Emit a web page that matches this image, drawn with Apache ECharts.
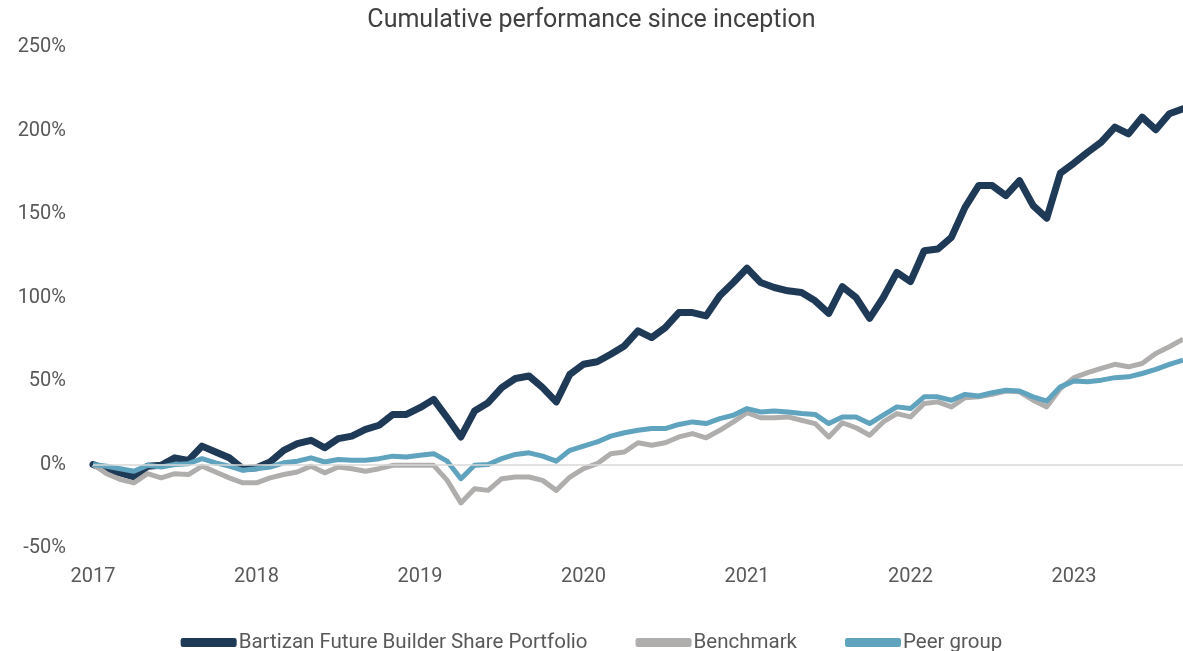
<!DOCTYPE html>
<html>
<head>
<meta charset="utf-8">
<style>
  html, body { margin: 0; padding: 0; background: #fff; }
  #main { width: 1183px; height: 651px; }
</style>
<script src="https://cdn.jsdelivr.net/npm/echarts@6/dist/echarts.min.js"></script>
</head>
<body>
<div id="main"></div>
<script>
// 月度数据，从 2017-01 到 2023-09
var years = ['2017', '2018', '2019', '2020', '2021', '2022', '2023']
var months = ['01', '02', '03', '04', '05', '06', '07', '08', '09', '10', '11', '12']

var portfolio = [
  0, -3, -5, -7.5, -1, -0.5, 4, 2.5, 11, 7.5, 4, -2.5,
  -2, 1.5, 8.5, 12.5, 14.5, 10, 15.5, 17, 21, 23.5, 30, 30,
  34, 39, 28, 16.5, 32, 37, 46, 51.5, 53, 46, 37.5, 54,
  60, 61.5, 66, 71, 80, 76, 82, 91, 91, 89, 101, 109,
  117.5, 109, 106, 104, 103, 98, 90.5, 106.5, 100, 87.5, 100, 115,
  109.5, 128, 129, 136, 154, 167, 167, 161, 170, 155, 147.5, 174.5,
  180.5, 187, 193, 202, 198, 208, 200.5, 210, 213
]
var benchmark = [
  0, -5.5, -9, -11, -5.5, -8, -5.5, -6, -1, -4.5, -8, -11,
  -11, -8, -6, -4.5, -1, -5, -1.5, -2.5, -4, -2.5, -0.5, -0.5,
  -0.5, -0.5, -9.5, -23, -14.5, -15.5, -8.5, -7.5, -7.5, -9.5, -15.5, -7.5,
  -2.5, 0.5, 6.5, 7.5, 13, 11.5, 13, 16.5, 18.5, 16, 20.5, 25.5,
  31, 28, 28, 28.5, 26.5, 24.5, 16.5, 25, 22, 17.5, 25.5, 30.5,
  28.5, 36.5, 37.5, 34.5, 40, 40.5, 42, 44, 43.5, 38.5, 34.5, 45.5,
  52, 55, 57.5, 60, 58.5, 60.5, 66.5, 70.5, 75
]
var peer = [
  0, -1, -2.5, -4, -0.5, -1.5, 0, 0.5, 3.5, 1, -1, -3.5,
  -2.5, -1.5, 1, 2, 4, 1.5, 3, 2.5, 2.5, 3.5, 5, 4.5,
  5.5, 6.5, 2, -8.5, -0.5, 0, 3.5, 6, 7, 5, 2, 8.5,
  11, 13.5, 17, 19, 20.5, 21.5, 21.5, 24, 25.5, 24.5, 27.5, 29.5,
  33.5, 31.5, 32, 31.5, 30.5, 30, 24.5, 28.5, 28.5, 24.5, 29.5, 34.5,
  33.5, 40.5, 40.5, 38.5, 42, 41, 43, 44.5, 44, 40.5, 38, 46.5,
  50, 49.5, 50.5, 52, 52.5, 54.5, 57, 60, 62.5
]

// 横轴类目
var dates = []
for (var i = 0; i < years.length; i++) {
  for (var j = 0; j < months.length; j++) {
    if (dates.length < portfolio.length) dates.push(years[i] + '-' + months[j])
  }
}

var myChart = echarts.init(document.getElementById('main'))

var option = {
  animation: false,
  textStyle: { fontFamily: 'Roboto, "Noto Sans", sans-serif' },
  title: {
    text: 'Cumulative performance since inception',
    left: 'center',
    top: 3,
    textStyle: { fontSize: 25, fontWeight: 'normal', color: '#404040' }
  },
  grid: { left: 93, right: 0, top: 47, bottom: 103 },
  legend: {
    top: 627,
    left: 'center',
    icon: 'roundRect',
    itemWidth: 56,
    itemHeight: 9,
    itemGap: 48,
    textStyle: { fontSize: 20.5, color: '#595959', padding: [0, 0, 0, -3] },
    data: ['Bartizan Future Builder Share Portfolio', 'Benchmark', 'Peer group']
  },
  xAxis: {
    type: 'category',
    boundaryGap: false,
    data: dates,
    axisLine: { show: false },
    axisTick: { show: false },
    axisLabel: {
      interval: 11,
      margin: 19,
      fontSize: 20,
      color: '#595959',
      formatter: function (v) { return v.slice(0, 4) }
    }
  },
  yAxis: {
    type: 'value',
    min: -50,
    max: 250,
    interval: 50,
    axisLine: { show: false },
    axisTick: { show: false },
    splitLine: { show: false },
    axisLabel: {
      margin: 27,
      fontSize: 20,
      color: '#595959',
      formatter: '{value}%'
    }
  },
  series: [
    {
      name: 'Bartizan Future Builder Share Portfolio',
      type: 'line',
      data: portfolio,
      showSymbol: false,
      lineStyle: { width: 7, color: '#1f3a56', join: 'round', cap: 'round' },
      itemStyle: { color: '#1f3a56' },
      markLine: {
        silent: true,
        symbol: 'none',
        label: { show: false },
        lineStyle: { color: '#d9d9d9', width: 1.5, type: 'solid' },
        data: [{ yAxis: 0 }]
      }
    },
    {
      name: 'Benchmark',
      type: 'line',
      data: benchmark,
      showSymbol: false,
      lineStyle: { width: 5, color: '#b0adad', join: 'round' },
      itemStyle: { color: '#b0adad' }
    },
    {
      name: 'Peer group',
      type: 'line',
      data: peer,
      showSymbol: false,
      lineStyle: { width: 5, color: '#5fa3be', join: 'round' },
      itemStyle: { color: '#5fa3be' }
    }
  ]
}

myChart.setOption(option)
</script>
</body>
</html>
